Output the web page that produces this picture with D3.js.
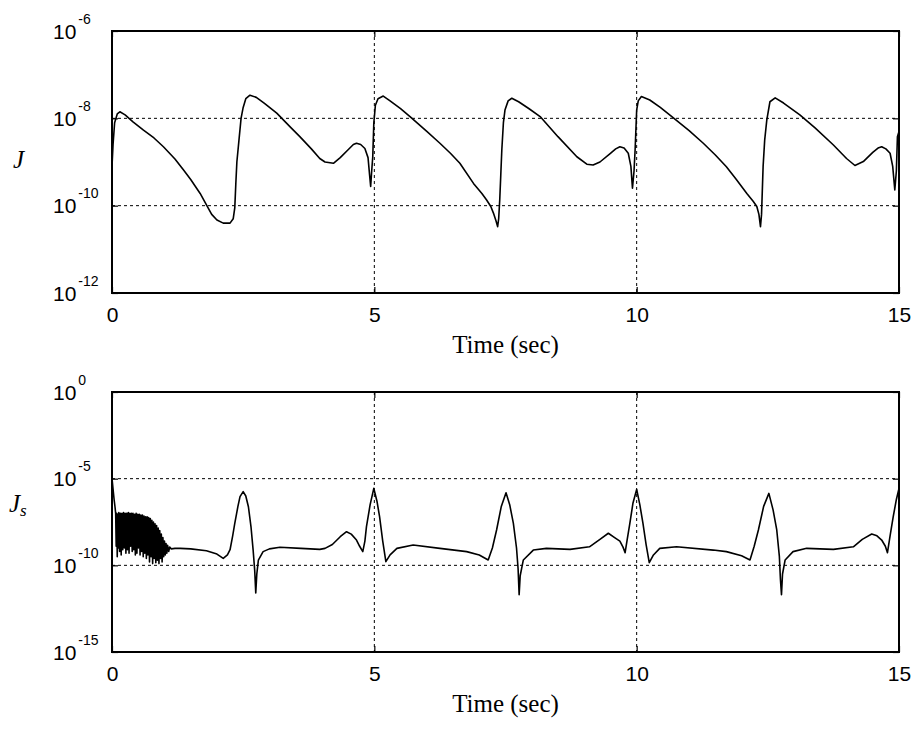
<!DOCTYPE html>
<html lang="en">
<head>
<meta charset="UTF-8">
<title>J and Js vs time</title>
<script src="https://cdnjs.cloudflare.com/ajax/libs/d3/7.8.5/d3.min.js"></script>
<style>
    body { margin: 0; background: #fff; }
    .tick-lbl { font-family: "Liberation Sans", Arial, sans-serif; fill: #000; }
    .serif { font-family: "Liberation Serif", "Times New Roman", serif; fill: #000; }
    .grid line { stroke: #000; stroke-width: 1; stroke-dasharray: 3,3; }
    .curve { fill: none; stroke: #000; stroke-width: 1.6; stroke-linejoin: round; }
</style>
</head>
<body>
<div id="chart"></div>
<script>
// ---- data (exponents are log10 of the value) ----
const xTicks = [0, 5, 10, 15];
const jTicks = [-6, -8, -10, -12];
const jsTicks = [0, -5, -10, -15];

const jTime = [0, 0.02, 0.05, 0.1, 0.15, 0.25, 0.4, 0.6, 0.8, 0.98, 1.2, 1.36, 1.5, 1.68, 1.8, 1.9, 2.0, 2.12, 2.25, 2.31, 2.34, 2.36, 2.38, 2.42, 2.46, 2.5, 2.55, 2.63, 2.75, 2.9, 3.14, 3.4, 3.58, 3.8, 3.96, 4.06, 4.22, 4.35, 4.5, 4.6, 4.66, 4.74, 4.82, 4.88, 4.91, 4.93, 4.95, 4.97, 4.99, 5.02, 5.07, 5.17, 5.3, 5.5, 5.68, 6.0, 6.25, 6.45, 6.63, 6.89, 7.05, 7.14, 7.22, 7.27, 7.32, 7.35, 7.37, 7.39, 7.41, 7.43, 7.46, 7.49, 7.55, 7.62, 7.75, 7.95, 8.16, 8.5, 8.86, 9.05, 9.17, 9.3, 9.5, 9.6, 9.68, 9.76, 9.84, 9.89, 9.92, 9.95, 9.97, 10.0, 10.03, 10.09, 10.25, 10.45, 10.7, 11.0, 11.27, 11.5, 11.71, 11.9, 12.1, 12.22, 12.29, 12.33, 12.36, 12.38, 12.41, 12.44, 12.48, 12.54, 12.64, 12.8, 13.11, 13.4, 13.75, 14.0, 14.16, 14.32, 14.5, 14.6, 14.67, 14.75, 14.83, 14.88, 14.92, 14.95, 14.97, 15.0];
const jExp = [-9.1, -8.6, -8.1, -7.9, -7.85, -7.92, -8.08, -8.27, -8.45, -8.65, -8.93, -9.18, -9.4, -9.72, -9.98, -10.2, -10.33, -10.4, -10.4, -10.3, -10.05, -9.5, -9.0, -8.5, -8.0, -7.75, -7.55, -7.47, -7.52, -7.65, -7.88, -8.2, -8.42, -8.7, -8.92, -9.0, -9.03, -8.9, -8.72, -8.6, -8.57, -8.6, -8.69, -8.9, -9.3, -9.56, -9.2, -8.88, -8.11, -7.7, -7.55, -7.49, -7.6, -7.78, -7.96, -8.3, -8.57, -8.8, -9.03, -9.49, -9.72, -9.87, -10.02, -10.17, -10.35, -10.48, -10.3, -9.87, -9.3, -8.72, -8.1, -7.81, -7.6, -7.54, -7.62, -7.78, -7.96, -8.42, -8.88, -9.05, -9.07, -9.0, -8.8, -8.7, -8.65, -8.68, -8.8, -9.1, -9.6, -9.2, -8.73, -7.81, -7.6, -7.5, -7.58, -7.75, -7.99, -8.28, -8.57, -8.84, -9.11, -9.4, -9.72, -9.9, -10.02, -10.2, -10.48, -10.2, -9.1, -8.5, -8.04, -7.62, -7.53, -7.65, -7.92, -8.22, -8.61, -8.92, -9.08, -8.99, -8.78, -8.68, -8.65, -8.7, -8.8, -9.1, -9.64, -9.2, -8.42, -8.3];

const jsTime = [0, 0.02, 0.04, 0.057,
    0.07, 0.08, 0.09, 0.10, 0.11, 0.12, 0.13, 0.145, 0.16, 0.175, 0.19, 0.205, 0.22, 0.235, 0.25, 0.265, 0.28, 0.295, 0.31, 0.325, 0.34, 0.355, 0.37, 0.385, 0.40, 0.415, 0.43, 0.445, 0.46, 0.475, 0.49, 0.505, 0.52, 0.535, 0.55, 0.565, 0.58, 0.595, 0.61, 0.625, 0.64, 0.655, 0.67, 0.685, 0.70, 0.715, 0.73, 0.745, 0.76, 0.775, 0.79, 0.805, 0.82, 0.835, 0.85, 0.865, 0.88, 0.895, 0.91, 0.925, 0.94, 0.955, 0.97, 0.985, 1.00, 1.015, 1.03, 1.045, 1.06, 1.08, 1.10, 1.13,
    1.2, 1.3, 1.5, 1.8, 2.0, 2.12, 2.2, 2.25, 2.3, 2.34, 2.4, 2.44, 2.5, 2.55, 2.6, 2.65, 2.69, 2.72, 2.74, 2.76, 2.79, 2.88, 3.0, 3.2, 3.6, 3.96, 4.06, 4.2, 4.35, 4.47, 4.56, 4.66, 4.72, 4.78, 4.82, 4.85, 4.92, 4.99, 5.05, 5.1, 5.16, 5.22, 5.3, 5.43, 5.74, 6.25, 6.76, 7.0, 7.17, 7.25, 7.33, 7.42, 7.51, 7.58, 7.65, 7.71, 7.74, 7.76, 7.78, 7.84, 8.03, 8.28, 8.73, 9.1, 9.3, 9.46, 9.58, 9.68, 9.74, 9.78, 9.82, 9.87, 9.93, 10.0, 10.06, 10.12, 10.18, 10.24, 10.32, 10.44, 10.76, 11.46, 11.71, 12.0, 12.16, 12.24, 12.32, 12.42, 12.52, 12.6, 12.67, 12.72, 12.74, 12.76, 12.78, 12.83, 12.98, 13.24, 13.75, 14.13, 14.3, 14.48, 14.58, 14.67, 14.74, 14.78, 14.83, 14.89, 14.95, 15.0];
const jsExp = [-4.98, -5.6, -6.2, -6.62,
    -7.0, -8.9, -7.0, -9.5, -7.05, -9.0, -6.95, -9.2, -7.0, -9.4, -7.0, -9.1, -6.95, -9.0, -7.0, -9.3, -7.0, -9.1, -6.95, -9.3, -7.0, -8.9, -7.0, -9.2, -7.0, -9.1, -7.05, -9.4, -7.0, -9.3, -7.05, -9.0, -7.05, -9.4, -7.1, -9.2, -7.1, -9.5, -7.15, -9.3, -7.2, -9.6, -7.2, -9.4, -7.25, -9.8, -7.3, -9.5, -7.4, -9.9, -7.5, -9.6, -7.6, -9.85, -7.7, -9.7, -7.85, -9.9, -8.0, -9.6, -8.2, -9.8, -8.4, -9.5, -8.6, -9.4, -8.75, -9.3, -8.85, -9.2, -8.95, -9.05,
    -9.02, -9.02, -9.05, -9.16, -9.35, -9.6, -9.4, -9.1, -8.3, -7.58, -6.6, -6.04, -5.75, -6.0, -6.62, -7.8, -9.12, -10.3, -11.6, -10.5, -9.7, -9.21, -9.05, -8.96, -9.02, -9.08, -9.02, -8.8, -8.35, -8.06, -8.2, -8.54, -8.9, -9.21, -8.6, -7.77, -6.5, -5.56, -6.3, -7.19, -8.6, -9.79, -9.4, -9.02, -8.83, -9.02, -9.21, -9.4, -9.69, -9.0, -7.96, -6.6, -5.81, -6.5, -7.58, -9.0, -10.2, -11.7, -10.6, -9.69, -9.12, -9.02, -9.08, -8.93, -8.5, -8.15, -8.4, -8.6, -8.95, -9.27, -8.5, -7.58, -6.4, -5.62, -6.5, -7.58, -8.8, -9.85, -9.4, -9.02, -8.93, -9.12, -9.21, -9.45, -9.69, -8.9, -7.96, -6.6, -5.85, -6.8, -7.96, -9.5, -10.8, -11.7, -10.5, -9.69, -9.21, -9.02, -9.08, -8.93, -8.5, -8.19, -8.3, -8.54, -8.9, -9.27, -8.3, -7.19, -6.2, -5.56];

// ---- layout ----
const W = 915, H = 733;
const left = 112, plotW = 787;
const panels = [
    { top: 31, h: 262, ticks: jTicks, time: jTime, exps: jExp, label: "J", sub: null, labelX: 13, labelY: 168 },
    { top: 392, h: 260, ticks: jsTicks, time: jsTime, exps: jsExp, label: "J", sub: "s", labelX: 9, labelY: 512 }
];

const svg = d3.select("#chart").append("svg")
    .attr("width", W).attr("height", H);

const x = d3.scaleLinear().domain([0, 15]).range([0, plotW]);

panels.forEach(p => {
    const lo = d3.min(p.ticks), hi = d3.max(p.ticks);
    const y = d3.scaleLog().domain([Math.pow(10, lo), Math.pow(10, hi)]).range([p.h, 0]);
    const yVals = p.ticks.map(e => Math.pow(10, e));

    const g = svg.append("g").attr("transform", `translate(${left},${p.top})`);

    // grid (interior ticks only)
    g.append("g").attr("class", "grid")
        .selectAll("line").data(xTicks.slice(1, -1)).join("line")
        .attr("x1", d => x(d)).attr("x2", d => x(d))
        .attr("y1", 0).attr("y2", p.h);
    g.append("g").attr("class", "grid")
        .selectAll("line").data(yVals.filter(v => v !== y.domain()[0] && v !== y.domain()[1])).join("line")
        .attr("x1", 0).attr("x2", plotW)
        .attr("y1", d => y(d)).attr("y2", d => y(d));

    // curve
    const pts = p.time.map((t, i) => [t, Math.pow(10, p.exps[i])]);
    g.append("path").datum(pts).attr("class", "curve")
        .attr("d", d3.line().x(d => x(d[0])).y(d => y(d[1])));

    // axes with inward ticks
    const xb = g.append("g").attr("transform", `translate(0,${p.h})`)
        .call(d3.axisBottom(x).tickValues(xTicks).tickFormat(d3.format("d"))
            .tickSizeInner(-6).tickSizeOuter(0).tickPadding(14));
    xb.selectAll("text").attr("class", "tick-lbl").style("font-size", "21px");

    g.append("g").call(d3.axisTop(x).tickValues(xTicks).tickFormat("")
        .tickSizeInner(-6).tickSizeOuter(0));
    g.append("g").attr("transform", `translate(${plotW},0)`)
        .call(d3.axisRight(y).tickValues(yVals).tickFormat("")
            .tickSizeInner(-6).tickSizeOuter(0));

    const yl = g.append("g")
        .call(d3.axisLeft(y).tickValues(yVals).tickFormat("")
            .tickSizeInner(-6).tickSizeOuter(0));
    yl.selectAll(".tick text").each(function(d) {
        const t = d3.select(this)
            .attr("class", "tick-lbl")
            .attr("x", -59).attr("y", 7).attr("dy", 0)
            .attr("text-anchor", "start")
            .style("font-size", "21px");
        t.append("tspan").text("10");
        t.append("tspan").attr("dx", 2).attr("dy", -15)
            .style("font-size", "14px")
            .text(Math.round(Math.log10(d)));
    });

    g.selectAll(".domain").remove();
    g.selectAll(".tick line").attr("stroke", "#000").attr("stroke-width", 1.2);

    // frame
    g.append("rect").attr("width", plotW).attr("height", p.h)
        .attr("fill", "none").attr("stroke", "#000").attr("stroke-width", 2);

    // x title
    g.append("text").attr("class", "serif")
        .attr("x", plotW / 2).attr("y", p.h + 59.5)
        .attr("text-anchor", "middle")
        .style("font-size", "25px")
        .text("Time (sec)");

    // y label
    const lab = svg.append("text").attr("class", "serif")
        .attr("x", p.labelX).attr("y", p.labelY)
        .style("font-size", "25px").style("font-style", "italic")
        .text(p.label);
    if (p.sub) {
        lab.append("tspan").attr("dy", 4).style("font-size", "17px").text(p.sub);
    }
});
</script>
</body>
</html>
